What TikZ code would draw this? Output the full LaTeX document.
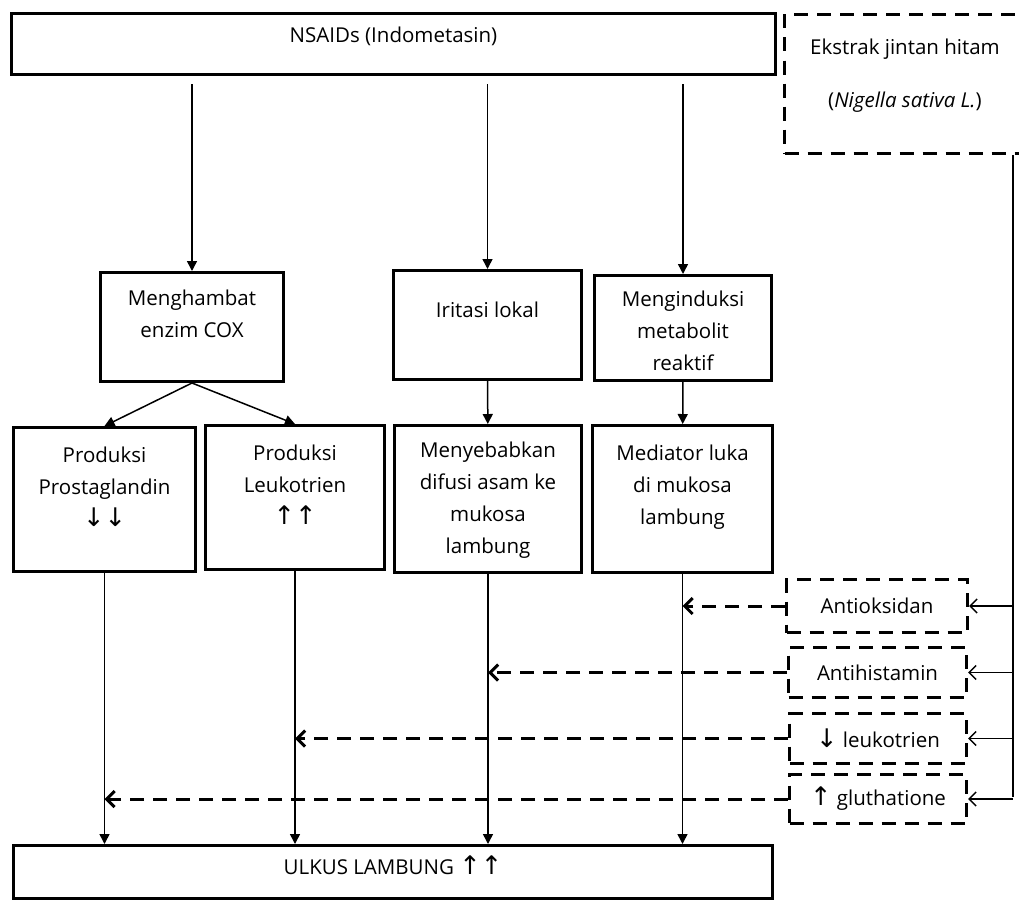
\documentclass[tikz,border=0pt]{standalone}
\usepackage{fontspec}
\setmainfont{Open Sans}
\newfontfamily\arrowfont[Scale=1.25]{DejaVu Sans}
\usetikzlibrary{arrows.meta}

\newcommand{\boxtext}[4]{\parbox[c][#2][t]{#1}{\centering\vspace*{#3}#4}}

\begin{document}
\begin{tikzpicture}[x=1pt,y=-1pt,
  font=\fontsize{20.5pt}{32pt}\selectfont,
  box/.style={draw, line width=3pt, inner sep=0pt, anchor=north west},
  dbox/.style={box, dash pattern=on 14pt off 9pt},
  arr/.style={-{Triangle[length=10pt,width=10pt]}, line width=1.5pt},
  darr/.style={-{Straight Barb[length=8pt,width=16pt]}, line width=3pt, dash pattern=on 14pt off 9pt},
  barb/.style={-{Straight Barb[length=7pt,width=14pt]}, line width=1.5pt}]

\useasboundingbox (0,0) rectangle (1019,899);

\node[box] (nsaid) at (10,12) {\boxtext{764pt}{61pt}{13pt}{NSAIDs (Indometasin)}};
\node[dbox] (ekstrak) at (783,13) {\boxtext{241pt}{139pt}{24pt}{Ekstrak jintan hitam\\[21pt](\textit{Nigella sativa L.})}};

\node[box] (cox) at (99,271) {\boxtext{183pt}{109pt}{17pt}{Menghambat\\enzim COX}};
\node[box] (irit) at (392,269) {\boxtext{188pt}{109pt}{31pt}{Iritasi lokal}};
\node[box] (induksi) at (593,274) {\boxtext{177pt}{105pt}{15pt}{Menginduksi\\metabolit\\reaktif}};

\node[box] (prosta) at (12,426) {\boxtext{182pt}{144pt}{19pt}{Produksi\\Prostaglandin\\{\arrowfont ↓↓}}};
\node[box] (leuko) at (204,424) {\boxtext{179pt}{144pt}{19pt}{Produksi\\Leukotrien\\{\arrowfont ↑↑}}};
\node[box] (difusi) at (393,424) {\boxtext{187pt}{147pt}{16pt}{Menyebabkan\\difusi asam ke\\mukosa\\lambung}};
\node[box] (mediator) at (591,424) {\boxtext{180pt}{147pt}{19pt}{Mediator luka\\di mukosa\\lambung}};

\node[box] (ulkus) at (12,844) {\boxtext{759pt}{53pt}{10pt}{ULKUS LAMBUNG {\arrowfont ↑↑}}};

\node[dbox, minimum width=181pt, minimum height=53pt] (oksidan) at (785,578) {Antioksidan};
\node[dbox, minimum width=178pt, minimum height=50pt] (histamin) at (787,646) {Antihistamin};
\node[dbox, minimum width=177pt, minimum height=50pt] (leukturun) at (788,712) {{\arrowfont ↓} leukotrien};
\node[dbox, minimum width=177pt, minimum height=49pt] (gluta) at (788,773) {{\arrowfont ↑} gluthatione};

\coordinate (trunk) at (1013,797);


\draw[arr, shorten <=8pt] (nsaid.south -| cox.north) -- (cox.north);
\draw[arr, shorten <=8pt] (nsaid.south -| irit.north) -- (irit.north);
\draw[arr, shorten <=8pt] (nsaid.south -| induksi.north) -- (induksi.north);

\draw[arr] (cox.south) -- (prosta.north);
\draw[arr] (cox.south) -- (leuko.north);
\draw[arr] (irit) -- (difusi);
\draw[arr] (induksi) -- (mediator);

\draw[arr] (prosta.south) -- (prosta.south |- ulkus.north);
\draw[arr] (leuko.south) -- (leuko.south |- ulkus.north);
\draw[arr] (difusi.south) -- (difusi.south |- ulkus.north);
\draw[arr] (mediator.south) -- (mediator.south |- ulkus.north);


\draw[line width=1.5pt] (ekstrak.south -| trunk) -- (trunk);
\draw[barb] (oksidan.east -| trunk) -- (oksidan.east);
\draw[barb] (histamin.east -| trunk) -- (histamin.east);
\draw[barb] (leukturun.east -| trunk) -- (leukturun.east);
\draw[barb] (gluta.east -| trunk) -- (gluta.east);

\draw[darr] (oksidan.west) -- (oksidan.west -| mediator.south);
\draw[darr] (histamin.west) -- (histamin.west -| difusi.south);
\draw[darr] (leukturun.west) -- (leukturun.west -| leuko.south);
\draw[darr] (gluta.west) -- (gluta.west -| prosta.south);

\end{tikzpicture}
\end{document}
